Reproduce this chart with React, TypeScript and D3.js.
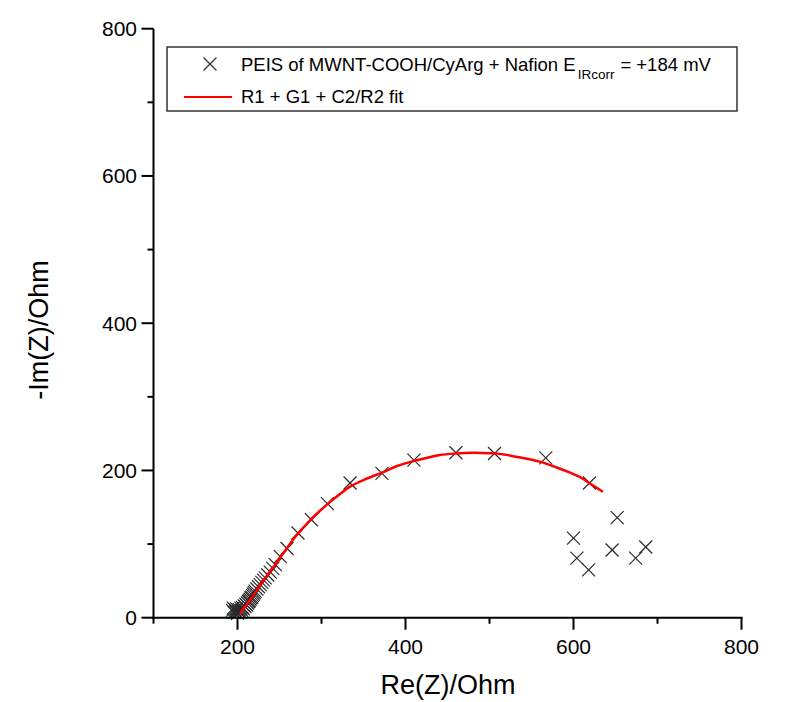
import React from "react";
import * as d3 from "d3";

// ---- data (Ohm) ----
const measuredRe: number[] = [
  194, 195, 196, 197, 198, 199, 200, 201, 202, 203, 204, 205, 206, 207, 208,
  209, 210, 211, 212, 213, 214, 215, 216, 217, 218, 219, 220, 221, 223, 225,
  227, 229, 231, 233, 236, 239, 242, 245, 251, 259, 272, 288, 307, 334,
  372, 410, 460, 506, 567, 619, 652, 600, 604, 618, 646, 686, 674,
];
const measuredIm: number[] = [
  10, 13, 7, 11, 8, 12, 6, 9, 11, 8, 13, 10, 14, 12, 16,
  15, 18, 17, 20, 22, 23, 25, 27, 28, 30, 32, 34, 36, 39, 42,
  45, 48, 51, 54, 58, 62, 67, 72, 83, 94, 115, 133, 155, 183,
  196, 214, 224, 223, 217, 183, 136, 108, 81, 65, 92, 96, 81,
];
const fitRe: number[] = [
  203, 205, 209, 213, 217, 221, 225, 229, 233, 239, 245, 251, 258, 266, 275,
  286, 298, 310, 322, 334, 352, 372, 390, 410, 425, 441, 460, 480, 500, 512,
  535, 560, 580, 596, 608, 620, 635,
];
const fitIm: number[] = [
  5, 9, 15, 21, 27, 34, 41, 47, 54, 63, 72, 82, 93, 106, 118,
  132, 145, 157, 168, 178, 188, 197, 206, 213, 217, 221, 223, 224, 223.5, 222.5,
  218, 212, 204, 197, 191, 182, 171,
];
const xTicksMajor: number[] = [200, 400, 600, 800];
const xTicksMinor: number[] = [100, 300, 500, 700];
const yTicksMajor: number[] = [0, 200, 400, 600, 800];
const yTicksMinor: number[] = [100, 300, 500, 700];
const xTitle = "Re(Z)/Ohm";
const yTitle = "-Im(Z)/Ohm";
const legendMeasured = "PEIS of MWNT-COOH/CyArg + Nafion E";
const legendSub = "IRcorr";
const legendTail = "= +184 mV";
const legendFit = "R1 + G1 + C2/R2 fit";

const W = 787;
const H = 702;
const FONT = "'Liberation Sans', Arial, sans-serif";

export default function App() {
  const x = d3.scaleLinear().domain([100, 800]).range([153.5, 741.5]);
  const y = d3.scaleLinear().domain([0, 800]).range([617.7, 28.7]);
  const x0 = x(100);
  const y0 = y(0);

  const fitPts: [number, number][] = fitRe.map((v, i) => [v, fitIm[i]]);
  const line = d3
    .line<[number, number]>()
    .x((d) => x(d[0]))
    .y((d) => y(d[1]))
    .curve(d3.curveCatmullRom.alpha(0.5));

  const mk = 6.5;
  const cross = (cx: number, cy: number, key: string | number, color = "#2a2a2a") => (
    <g key={key} stroke={color} strokeWidth={1.2} fill="none">
      <line x1={cx - mk} y1={cy - mk} x2={cx + mk} y2={cy + mk} />
      <line x1={cx - mk} y1={cy + mk} x2={cx + mk} y2={cy - mk} />
    </g>
  );

  return (
    <svg
      width={W}
      height={H}
      viewBox={`0 0 ${W} ${H}`}
      style={{ position: "absolute", left: 0, top: 0, background: "#fff" }}
      fontFamily={FONT}
    >
      <rect x={0} y={0} width={W} height={H} fill="#fff" />

      {/* data */}
      <g>
        {measuredRe.map((v, i) => cross(x(v), y(measuredIm[i]), i))}
      </g>
      <path d={line(fitPts) || ""} fill="none" stroke="#ff0000" strokeWidth={2.5} />

      {/* axes */}
      <g stroke="#000" strokeWidth={2} fill="none">
        <line x1={x0} y1={y(800)} x2={x0} y2={y0 + 1} />
        <line x1={x0 - 1} y1={y0} x2={x(800) + 1} y2={y0} />
        {xTicksMajor.map((t) => (
          <line key={"xM" + t} x1={x(t)} y1={y0} x2={x(t)} y2={y0 + 12} />
        ))}
        {xTicksMinor.map((t) => (
          <line key={"xm" + t} x1={x(t)} y1={y0} x2={x(t)} y2={y0 + 6} />
        ))}
        {yTicksMajor.map((t) => (
          <line key={"yM" + t} x1={x0} y1={y(t)} x2={x0 - 12} y2={y(t)} />
        ))}
        {yTicksMinor.map((t) => (
          <line key={"ym" + t} x1={x0} y1={y(t)} x2={x0 - 6} y2={y(t)} />
        ))}
      </g>
      <g fontSize={21} fill="#000">
        {xTicksMajor.map((t) => (
          <text key={"xl" + t} x={x(t)} y={654} textAnchor="middle">
            {t}
          </text>
        ))}
        {yTicksMajor.map((t) => (
          <text key={"yl" + t} x={137} y={y(t) + 7.5} textAnchor="end">
            {t}
          </text>
        ))}
      </g>
      <text x={448} y={694} fontSize={27} textAnchor="middle" fill="#000">
        {xTitle}
      </text>
      <text
        transform={`translate(48,330) rotate(-90)`}
        fontSize={27}
        textAnchor="middle"
        fill="#000"
      >
        {yTitle}
      </text>

      {/* legend */}
      <rect x={167} y={47} width={570} height={64} fill="#fff" stroke="#333" strokeWidth={1.5} />
      {cross(210, 64, "leg", "#333")}
      <text x={241} y={71} fontSize={18.5} fill="#000">
        {legendMeasured}
        <tspan fontSize={13.5} dx={2} dy={8}>{legendSub}</tspan>
        <tspan fontSize={18.5} dx={6} dy={-8}>{legendTail}</tspan>
      </text>
      <line x1={184} y1={97} x2={232} y2={97} stroke="#ff0000" strokeWidth={2} />
      <text x={241} y={103} fontSize={18.5} fill="#000">
        {legendFit}
      </text>
    </svg>
  );
}
